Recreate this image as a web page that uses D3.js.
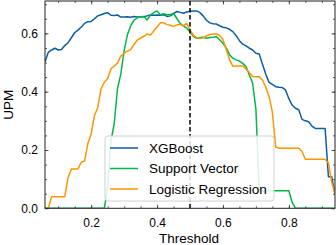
<!DOCTYPE html>
<html>
<head>
<meta charset="utf-8">
<script src="https://cdn.jsdelivr.net/npm/d3@7"></script>
<style>
  html, body { margin: 0; padding: 0; background: #fff; }
  svg text { font-family: "Liberation Sans", Arial, sans-serif; fill: #000; }
</style>
</head>
<body>
<svg id="chart" width="336" height="245"></svg>
<script>
// thresholds 0.06 .. 0.94
const thresholds = [
  0.06, 0.07, 0.08, 0.09, 0.10, 0.11, 0.12, 0.13, 0.14, 0.15,
  0.16, 0.17, 0.18, 0.19, 0.20, 0.21, 0.22, 0.23, 0.24, 0.25,
  0.26, 0.27, 0.28, 0.29, 0.30, 0.31, 0.32, 0.33, 0.34, 0.35,
  0.36, 0.37, 0.38, 0.39, 0.40, 0.41, 0.42, 0.43, 0.44, 0.45,
  0.46, 0.47, 0.48, 0.49, 0.50, 0.51, 0.52, 0.53, 0.54, 0.55,
  0.56, 0.57, 0.58, 0.59, 0.60, 0.61, 0.62, 0.63, 0.64, 0.65,
  0.66, 0.67, 0.68, 0.69, 0.70, 0.71, 0.72, 0.73, 0.74, 0.75,
  0.76, 0.77, 0.78, 0.79, 0.80, 0.81, 0.82, 0.83, 0.84, 0.85,
  0.86, 0.87, 0.88, 0.89, 0.90, 0.91, 0.92, 0.93, 0.94
];

const xgboost_upm = [
  0.503, 0.535, 0.543, 0.549, 0.543, 0.545, 0.558, 0.568, 0.585, 0.602,
  0.611, 0.622, 0.634, 0.640, 0.641, 0.650, 0.660, 0.664, 0.668, 0.671,
  0.662, 0.661, 0.663, 0.656, 0.656, 0.657, 0.655, 0.658, 0.656, 0.657,
  0.657, 0.660, 0.663, 0.662, 0.663, 0.662, 0.664, 0.658, 0.660, 0.668,
  0.675, 0.672, 0.669, 0.673, 0.676, 0.677, 0.677, 0.671, 0.660, 0.645,
  0.636, 0.633, 0.632, 0.626, 0.621, 0.619, 0.614, 0.606, 0.592, 0.575,
  0.563, 0.557, 0.549, 0.543, 0.532, 0.529, 0.494, 0.460, 0.432, 0.425,
  0.417, 0.415, 0.414, 0.406, 0.376, 0.354, 0.343, 0.338, 0.305, 0.300,
  0.297, 0.282, 0.274, 0.274, 0.274, 0.274, 0.108, 0.108, 0.050
];

const svm_upm = [
  0, 0, 0, 0, 0, 0, 0, 0, 0, 0,
  0, 0, 0, 0, 0, 0, 0, 0, 0, 0.070,
  0.230, 0.290, 0.410, 0.460, 0.540, 0.595, 0.626, 0.645, 0.653, 0.657,
  0.658, 0.646, 0.663, 0.671, 0.677, 0.664, 0.667, 0.664, 0.664, 0.669,
  0.651, 0.634, 0.626, 0.618, 0.605, 0.590, 0.583, 0.586, 0.587, 0.583,
  0.586, 0.587, 0.589, 0.578, 0.566, 0.550, 0.527, 0.515, 0.509, 0.505,
  0.497, 0.486, 0.457, 0.429, 0.340, 0.062, 0.060, 0.060, 0.060, 0.060,
  0.060, 0.060, 0.060, 0.060, 0.060, 0.020, 0, 0, 0, 0,
  0, 0, 0, 0, 0, 0, 0, 0, 0
];

const logreg_upm = [
  0, 0, 0.040, 0.040, 0.040, 0.040, 0.040, 0.105, 0.135, 0.135,
  0.135, 0.158, 0.162, 0.222, 0.255, 0.318, 0.345, 0.410, 0.432, 0.444,
  0.478, 0.488, 0.498, 0.522, 0.532, 0.539, 0.544, 0.562, 0.577, 0.584,
  0.590, 0.598, 0.594, 0.608, 0.622, 0.636, 0.636, 0.630, 0.628, 0.624,
  0.629, 0.631, 0.626, 0.634, 0.612, 0.594, 0.585, 0.583, 0.584, 0.592,
  0.596, 0.598, 0.598, 0.593, 0.578, 0.545, 0.510, 0.487, 0.488, 0.488,
  0.488, 0.478, 0.466, 0.452, 0.451, 0.451, 0.440, 0.415, 0.383, 0.330,
  0.210, 0.206, 0.206, 0.206, 0.206, 0.206, 0.206, 0.206, 0.195, 0.168,
  0.168, 0.168, 0.168, 0.168, 0.168, 0.168, 0.155, 0.090, 0.050
];

const series_names = ["XGBoost", "Support Vector", "Logistic Regression"];
const series_colors = ["#0C5DA5", "#00B945", "#FF9500"];
const x_tick_labels = [0.2, 0.4, 0.6, 0.8];
const y_tick_labels = [0.0, 0.2, 0.4, 0.6];
const cutoff = 0.5;

const svg = d3.select("#chart");
const margin = { top: 1, right: 1, bottom: 36.7, left: 45 };
const width = 336 - margin.left - margin.right;
const height = 245 - margin.top - margin.bottom;

const x = d3.scaleLinear().domain([0.06, 0.94]).range([0, width]);
const y = d3.scaleLinear().domain([0, 0.711]).range([height, 0]);

const g = svg.append("g").attr("transform", `translate(${margin.left},${margin.top})`);

g.append("clipPath").attr("id", "clip")
  .append("rect").attr("width", width).attr("height", height);

const all_series = [xgboost_upm, svm_upm, logreg_upm].map((vals, i) => ({
  name: series_names[i],
  color: series_colors[i],
  points: thresholds.map((t, j) => [t, vals[j]])
}));

const line = d3.line().x(d => x(d[0])).y(d => y(d[1]));

g.append("g").attr("clip-path", "url(#clip)")
  .selectAll("path")
  .data(all_series)
  .enter()
  .append("path")
  .attr("d", d => line(d.points))
  .attr("fill", "none")
  .attr("stroke", d => d.color)
  .attr("stroke-width", 1.5)
  .attr("stroke-linejoin", "round");

// decision threshold
g.append("line")
  .attr("x1", x(cutoff)).attr("x2", x(cutoff))
  .attr("y1", 0).attr("y2", height)
  .attr("stroke", "#000")
  .attr("stroke-width", 1.5)
  .attr("stroke-dasharray", "4.5,2.5");

// axes: ticks pointing inward on all four sides
const x_minor = d3.range(0.1, 0.941, 0.05);
const y_minor = d3.range(0.05, 0.711, 0.05);

function draw_axis(axis_fn, scale, ticks, size, labels, transform) {
  const a = g.append("g").attr("transform", transform)
    .call(axis_fn(scale).tickValues(ticks).tickSize(size).tickPadding(labels ? 7 : 0)
      .tickFormat(labels ? d3.format(".1f") : ""));
  a.select(".domain").remove();
  a.selectAll("line").attr("stroke", "#333").attr("stroke-width", 0.8);
  a.selectAll("text").attr("font-size", 12).attr("fill", "#000");
  return a;
}

draw_axis(d3.axisBottom, x, x_minor, -2, false, `translate(0,${height})`);
draw_axis(d3.axisTop, x, x_minor, -2, false, "translate(0,0)");
draw_axis(d3.axisLeft, y, y_minor, -2, false, "translate(0,0)");
draw_axis(d3.axisRight, y, y_minor, -2, false, `translate(${width},0)`);

const xb = draw_axis(d3.axisBottom, x, x_tick_labels, -3.5, true, `translate(0,${height})`);
xb.selectAll("text").attr("y", 10);
draw_axis(d3.axisTop, x, x_tick_labels, -3.5, false, "translate(0,0)");
const yl = draw_axis(d3.axisLeft, y, y_tick_labels, -3.5, true, "translate(0,0)");
yl.selectAll("text").attr("x", -7);
draw_axis(d3.axisRight, y, y_tick_labels, -3.5, false, `translate(${width},0)`);

g.append("rect")
  .attr("width", width).attr("height", height)
  .attr("fill", "none").attr("stroke", "#222").attr("stroke-width", 1);

// axis titles
svg.append("text")
  .attr("x", margin.left + width / 2 - 1)
  .attr("y", 242.5)
  .attr("text-anchor", "middle")
  .attr("font-size", 13.5)
  .text("Threshold");

svg.append("text")
  .attr("transform", `translate(12.5,${margin.top + height / 2}) rotate(-90)`)
  .attr("text-anchor", "middle")
  .attr("font-size", 13.5)
  .text("UPM");

// legend
const legend = g.append("g").attr("transform", `translate(${105 - margin.left},${136 - margin.top})`);
legend.append("rect")
  .attr("width", 169).attr("height", 65)
  .attr("rx", 3)
  .attr("fill", "#fff").attr("fill-opacity", 0.85)
  .attr("stroke", "#d0d0d0").attr("stroke-width", 1);

const rows = legend.selectAll("g.row")
  .data(all_series)
  .enter()
  .append("g")
  .attr("class", "row")
  .attr("transform", (d, i) => `translate(0,${12 + i * 20.5})`);

rows.append("line")
  .attr("x1", 5).attr("x2", 33)
  .attr("stroke", d => d.color).attr("stroke-width", 1.5);

rows.append("text")
  .attr("x", 44)
  .attr("dy", "0.35em")
  .attr("font-size", 13.5)
  .text(d => d.name);
</script>
</body>
</html>
